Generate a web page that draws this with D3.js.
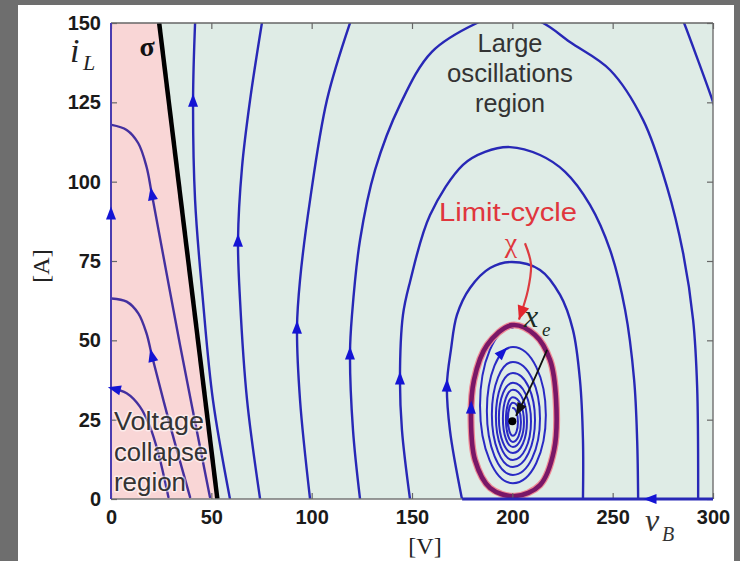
<!DOCTYPE html>
<html>
<head>
<meta charset="utf-8">
<script src="https://cdn.jsdelivr.net/npm/d3@7"></script>
<style>
  html, body { margin: 0; padding: 0; background: #6e6e6e; }
  svg { display: block; }
</style>
</head>
<body>
<svg id="chart" width="740" height="561"></svg>
<script>
// ---------------- data (V in volts, i in amperes) ----------------
const xTicks = [0, 50, 100, 150, 200, 250, 300];
const yTicks = [0, 25, 50, 75, 100, 125, 150];

// separatrix sigma
const sigmaLine = [[24, 150], [53, 0]];

// trajectories inside the voltage-collapse region (ordered along the flow)
const collapse1 = [[49.3, 0.6], [34.4, 48.5], [20.3, 96.3], [17.7, 104.7], [13.6, 112.1], [7.8, 116.3], [0.3, 117.9]];
const collapse2 = [[39.4, 0.6], [29.4, 23.3], [20.3, 45.4], [17.7, 52.2], [13.6, 58.5], [7.8, 62.2], [0.3, 63.2]];
const collapse3 = [[28.6, 0.6], [23.6, 14.4], [19.4, 22.8], [14.4, 29.1], [7.8, 33.3], [0.3, 34.9]];
const leftEdgeTraj = [[0, 0], [0, 150]];

// open trajectories (flow upward)
const trajA = [[59.3, 0], [50.8, 31.2], [45.8, 62.7], [41.9, 94.2], [40.9, 125.7], [41.9, 150]];
const trajB = [[74.3, 0], [67.8, 31.2], [64.3, 62.7], [63.3, 81.6], [65.3, 104.6], [69.3, 125.7], [75.2, 150]];
const trajC = [[99.2, 0], [94.2, 31.2], [92.7, 54.2], [94.2, 69.0], [99.2, 94.2], [107.6, 125.7], [119.1, 150]];
const trajC2 = [[283, 154], [285.6, 150], [292.5, 138.3], [300, 125.1], [302, 121]];

// large oscillation arches (clockwise)
const trajD = [[124.1, 0], [120.6, 21.7], [119.1, 46.0], [120.1, 58.0], [124.1, 81.6], [131.6, 103.7], [144.0, 124.2],
  [159.9, 140.9], [182.4, 150], [198.8, 153.5], [215.3, 150], [228.7, 144.0], [248.7, 135.2], [265.2, 119.4],
  [277.1, 98.3], [285.1, 77.5], [290.1, 56.4], [292.1, 35.3], [292.6, 0]];
const trajE = [[149.0, 0], [145.0, 21.7], [144.0, 38.1], [145.5, 58.0], [149.0, 68.4], [159.0, 89.5], [175.4, 105.3],
  [186.4, 109.4], [198.8, 110.9], [213.8, 108.4], [226.3, 103.1], [238.7, 92.7], [248.7, 78.5], [256.2, 59.6],
  [260.7, 37.5], [262.2, 18.6], [262.7, 0]];
const trajF = [[174.9, 0], [168.9, 21.7], [167.4, 35.9], [169.4, 47.0], [172.4, 58.0], [178.9, 66.5], [188.9, 72.8],
  [199.8, 74.7], [213.8, 72.2], [223.8, 64.3], [230.2, 53.3], [233.7, 37.5], [235.2, 18.6], [235.2, 0]];
const bottomTraj = [[300, 0], [175, 0]];

// limit cycle chi (clockwise)
const limitCycle = [[199.8, 54.8], [211.3, 51.7], [218.8, 43.8], [221.8, 31.2], [220.8, 15.4], [213.8, 4.4],
  [201.3, 0.9], [188.9, 3.5], [181.4, 12.3], [179.4, 24.9], [180.9, 37.5], [187.4, 48.5]];

// spiral rings around the equilibrium, inner to outer (top, bottom, left, right extremes)
const ringTop    = [28.7, 30.3, 32.1, 34.4, 36.6, 39.7, 43.2, 47.9, 54.0];
const ringBottom = [19.9, 18.0, 16.4, 14.5, 12.3, 10.1, 7.6, 5.0];
const ringLeft   = [197.8, 196.8, 195.3, 193.3, 191.8, 189.8, 187.3, 183.9];
const ringRight  = [202.8, 204.3, 205.8, 207.3, 209.3, 211.3, 213.8, 216.7];
const spiralCenterV = 200.3;

// equilibrium x_e
const equilibrium = [200, 24.5];

// arrow marks on trajectories
const arrowMarks = [
  {traj: "c1", at: [20.3, 96.3]}, {traj: "c2", at: [20.3, 45.4]}, {traj: "c3", at: [1.6, 34.8]},
  {traj: "left", at: [0, 90.1]}, {traj: "A", at: [40.9, 125.7]}, {traj: "B", at: [63.3, 81.6]},
  {traj: "C", at: [92.7, 54.2]}, {traj: "D", at: [119.1, 46.0]}, {traj: "E", at: [144.0, 38.1]},
  {traj: "F", at: [167.4, 35.9]}, {traj: "LC", at: [179.6, 29.0]}, {traj: "spiral", at: [194.5, 46.8]},
  {traj: "bottom", at: [268.6, 0]}
];

// annotation arrows
const chiArrow = [[206.3, 80.6], [209.3, 74.0], [207.8, 65.9], [203.3, 56.5]];
const xeArrow = [[217.3, 47.0], [210.0, 36.5], [201.8, 26.2]];

// ---------------- drawing ----------------
const svg = d3.select("#chart");
const W = 740, H = 561;

svg.append("rect").attr("x", 0).attr("y", 0).attr("width", W).attr("height", H).attr("fill", "#6e6e6e");
svg.append("rect").attr("x", 18).attr("y", 5).attr("width", 716).attr("height", 556).attr("fill", "#ffffff");

const x = d3.scaleLinear().domain([0, 300]).range([111, 713]);
const y = d3.scaleLinear().domain([0, 150]).range([499, 23]);

const defs = svg.append("defs");
defs.append("clipPath").attr("id", "plotclip")
  .append("rect").attr("x", x(0)).attr("y", y(150)).attr("width", x(300) - x(0)).attr("height", y(0) - y(150));

// background regions
svg.append("rect").attr("x", x(0)).attr("y", y(150)).attr("width", x(300) - x(0)).attr("height", y(0) - y(150))
  .attr("fill", "#dfece6");
svg.append("path")
  .attr("d", d3.line()([[x(0), y(0)], [x(0), y(150)], [x(sigmaLine[0][0]), y(sigmaLine[0][1])], [x(sigmaLine[1][0]), y(sigmaLine[1][1])]]) + "Z")
  .attr("fill", "#f9d6d6");

const plot = svg.append("g").attr("clip-path", "url(#plotclip)");

const lineGen = d3.line().x(d => x(d[0])).y(d => y(d[1])).curve(d3.curveCatmullRom.alpha(0.5));
const closedGen = d3.line().x(d => x(d[0])).y(d => y(d[1])).curve(d3.curveCatmullRomClosed.alpha(0.5));

const blue = "#2828b6";
const purple = "#44309f";
const paths = {};

function drawPathD(key, d, color, width) {
  const p = plot.append("path").attr("d", d)
    .attr("fill", "none").attr("stroke", color).attr("stroke-width", width)
    .attr("stroke-linejoin", "round").attr("stroke-linecap", "round");
  paths[key] = p.node();
  return p;
}
function drawTraj(key, pts, color, width, gen) {
  return drawPathD(key, (gen || lineGen)(pts), color, width);
}

drawTraj("c1", collapse1, purple, 2.4);
drawTraj("c2", collapse2, purple, 2.4);
drawTraj("c3", collapse3, purple, 2.4);
drawTraj("A", trajA, blue, 2.4);
drawTraj("B", trajB, blue, 2.4);
drawTraj("C", trajC, blue, 2.4);
drawTraj("C2", trajC2, blue, 2.4);
drawTraj("D", trajD, blue, 2.4);
drawTraj("E", trajE, blue, 2.4);
drawTraj("F", trajF, blue, 2.4);

// spiral: half-ellipse arcs through the ring extremes, clockwise outward
(function () {
  const cx = x(spiralCenterV);
  let d = `M${cx},${y(ringTop[0])}`;
  ringBottom.forEach((b, k) => {
    const yt = y(ringTop[k]), yb = y(b), ytn = y(ringTop[k + 1]);
    const rxR = x(ringRight[k]) - cx, ryR = (yb - yt) / 2;
    const rxL = cx - x(ringLeft[k]), ryL = (yb - ytn) / 2;
    d += ` A${rxR},${ryR} 0 0 1 ${cx},${yb}`;
    d += ` A${rxL},${ryL} 0 0 1 ${cx},${ytn}`;
  });
  drawPathD("spiral", d, "#2a2ac4", 2);
})();

// limit cycle with pink halo
plot.append("path").attr("d", closedGen(limitCycle)).attr("fill", "none")
  .attr("stroke", "#ef8a95").attr("stroke-width", 7);
drawTraj("LC", limitCycle, "#7a1767", 4.6, closedGen);

// sigma
plot.append("path").attr("d", d3.line()(sigmaLine.map(d => [x(d[0]), y(d[1])])))
  .attr("stroke", "#000").attr("stroke-width", 4.5).attr("fill", "none");

// frame lines
const frame = svg.append("g");
frame.append("line").attr("x1", x(0)).attr("x2", x(300)).attr("y1", y(150)).attr("y2", y(150)).attr("stroke", "#666").attr("stroke-width", 1.5);
frame.append("line").attr("x1", x(300)).attr("x2", x(300)).attr("y1", y(150)).attr("y2", y(0)).attr("stroke", "#777").attr("stroke-width", 1.5);
frame.append("line").attr("x1", x(0)).attr("x2", x(300)).attr("y1", y(0)).attr("y2", y(0)).attr("stroke", "#777").attr("stroke-width", 1.5);

// axes
const axFont = "'Liberation Sans', Arial, Helvetica, sans-serif";
function styleAxis(g, labels) {
  g.select(".domain").remove();
  g.selectAll(".tick line").attr("stroke", "#666").attr("stroke-width", 1.2);
  g.attr("font-family", axFont).attr("font-size", 20).attr("font-weight", "bold");
  g.selectAll(".tick text").attr("fill", "#1a1a1a");
  if (!labels) g.selectAll(".tick text").remove();
}
svg.append("g").attr("transform", `translate(0,${y(0)})`)
  .call(d3.axisBottom(x).tickValues(xTicks).tickSizeInner(-6).tickSizeOuter(0).tickPadding(11).tickFormat(d3.format("d")))
  .call(g => styleAxis(g, true));
svg.append("g").attr("transform", `translate(${x(0)},0)`)
  .call(d3.axisLeft(y).tickValues(yTicks).tickSizeInner(-6).tickSizeOuter(0).tickPadding(10).tickFormat(d3.format("d")))
  .call(g => styleAxis(g, true));
svg.append("g").attr("transform", `translate(0,${y(150)})`)
  .call(d3.axisTop(x).tickValues(xTicks).tickSizeInner(-6).tickSizeOuter(0))
  .call(g => styleAxis(g, false));
svg.append("g").attr("transform", `translate(${x(300)},0)`)
  .call(d3.axisRight(y).tickValues(yTicks).tickSizeInner(-6).tickSizeOuter(0))
  .call(g => styleAxis(g, false));

// edge trajectories on axes
const edgeG = svg.append("g");
function drawEdge(key, pts, color, width) {
  const p = edgeG.append("path").attr("d", d3.line()(pts.map(d => [x(d[0]), y(d[1])])))
    .attr("fill", "none").attr("stroke", color).attr("stroke-width", width);
  paths[key] = p.node();
}
drawEdge("left", leftEdgeTraj, "#4a3cb0", 2);
drawEdge("bottom", bottomTraj, blue, 3);

// arrowheads
const arrowG = svg.append("g");
function arrowAt(node, pt, color, len, half) {
  const total = node.getTotalLength();
  const px = x(pt[0]), py = y(pt[1]);
  let best = 0, bestD = Infinity;
  for (let l = 0; l <= total; l += 0.5) {
    const q = node.getPointAtLength(l);
    const dd = (q.x - px) ** 2 + (q.y - py) ** 2;
    if (dd < bestD) { bestD = dd; best = l; }
  }
  const a = node.getPointAtLength(Math.max(0, best - 3));
  const b = node.getPointAtLength(Math.min(total, best + 3));
  const ang = Math.atan2(b.y - a.y, b.x - a.x) * 180 / Math.PI;
  const c = node.getPointAtLength(best);
  arrowG.append("path")
    .attr("d", `M${len / 2},0 L${-len / 2},${-half} L${-len / 2},${half} Z`)
    .attr("transform", `translate(${c.x},${c.y}) rotate(${ang})`)
    .attr("fill", color);
}
arrowMarks.forEach(m => arrowAt(paths[m.traj], m.at, "#1414d4", 13, 5));

// equilibrium point
svg.append("circle").attr("cx", x(equilibrium[0])).attr("cy", y(equilibrium[1])).attr("r", 4).attr("fill", "#000");

// annotation arrows
const annG = svg.append("g");
const chiPath = annG.append("path").attr("d", lineGen(chiArrow)).attr("fill", "none")
  .attr("stroke", "#dc3b40").attr("stroke-width", 2.2);
const xePath = annG.append("path").attr("d", lineGen(xeArrow)).attr("fill", "none")
  .attr("stroke", "#111").attr("stroke-width", 1.8);
function endArrow(node, color, len, half) {
  const t = node.getTotalLength();
  const a = node.getPointAtLength(t - 4), b = node.getPointAtLength(t);
  const ang = Math.atan2(b.y - a.y, b.x - a.x) * 180 / Math.PI;
  annG.append("path").attr("d", `M0,0 L${-len},${-half} L${-len},${half} Z`)
    .attr("transform", `translate(${b.x},${b.y}) rotate(${ang})`).attr("fill", color);
}
endArrow(chiPath.node(), "#e2262e", 14, 6);
endArrow(xePath.node(), "#111", 13, 5);

// ---------------- texts ----------------
const sans = "'Liberation Sans', Arial, Helvetica, sans-serif";
const serif = "'Liberation Serif', 'Times New Roman', serif";
const txt = svg.append("g");

function label(str, tx, ty, opts) {
  const t = txt.append("text").attr("x", tx).attr("y", ty).text(str)
    .attr("font-family", opts.family || sans).attr("font-size", opts.size || 24)
    .attr("fill", opts.fill || "#333").attr("text-anchor", opts.anchor || "start");
  if (opts.italic) t.attr("font-style", "italic");
  if (opts.bold) t.attr("font-weight", "bold");
  if (opts.len) t.attr("textLength", opts.len).attr("lengthAdjust", "spacingAndGlyphs");
  if (opts.halo) t.attr("stroke", opts.halo).attr("stroke-width", 3).attr("paint-order", "stroke").attr("stroke-linejoin", "round");
  return t;
}

label("Large", 510, 52, {size: 25, anchor: "middle", len: 65});
label("oscillations", 510, 82, {size: 25, anchor: "middle", len: 126});
label("region", 510, 112, {size: 25, anchor: "middle", len: 70});

label("Limit-cycle", 508, 221, {size: 25, anchor: "middle", fill: "#e0363d", len: 138});
label("χ", 511, 252, {family: serif, size: 28, anchor: "middle", fill: "#e0363d"});

label("Voltage", 114, 430, {size: 25, len: 90, halo: "rgba(255,255,255,0.55)"});
label("collapse", 114, 461, {size: 25, len: 94, halo: "rgba(255,255,255,0.55)"});
label("region", 114, 491, {size: 25, len: 72, halo: "rgba(255,255,255,0.55)"});

// x_e
label("x", 524, 327, {family: serif, size: 32, italic: true, fill: "#1c2a22"});
label("e", 542, 336, {family: serif, size: 19, italic: true, fill: "#1c2a22"});

// sigma
label("σ", 147, 56, {family: serif, size: 28, bold: true, anchor: "middle", fill: "#111"});

// axis names
label("i", 70, 62, {family: serif, size: 34, italic: true, fill: "#222"});
label("L", 83, 70, {family: serif, size: 22, italic: true, fill: "#222"});
txt.append("text").attr("transform", "translate(49,266) rotate(-90)").attr("text-anchor", "middle")
  .attr("font-family", serif).attr("font-size", 24).attr("fill", "#222").text("[A]");
label("[V]", 425, 554, {family: serif, size: 24, anchor: "middle", fill: "#222"});
label("v", 645, 531, {family: serif, size: 32, italic: true, fill: "#333"});
label("B", 662, 541, {family: serif, size: 20, italic: true, fill: "#333"});
</script>
</body>
</html>
